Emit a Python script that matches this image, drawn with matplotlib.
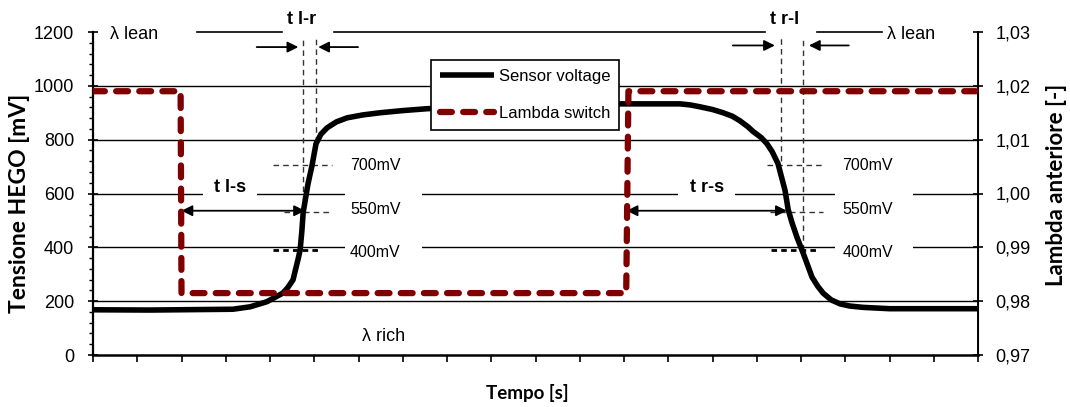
import matplotlib
matplotlib.use("Agg")
import matplotlib.pyplot as plt
from matplotlib.ticker import MultipleLocator, NullFormatter

plt.rcParams['font.family'] = ['Liberation Sans', 'DejaVu Sans']

# sensor voltage [mV]
sensor_t = [0, 1.29, 3.16, 3.55, 3.93, 4.29, 4.4, 4.52, 4.63, 4.68, 4.72, 4.75,
            4.86, 4.95, 5.04, 5.15, 5.29, 5.5, 5.74, 6.1, 6.49, 7.0, 7.55, 9.0,
            10.5, 11.84, 13.27, 13.5, 13.72, 14.0, 14.24, 14.45, 14.62, 14.8,
            14.92, 15.1, 15.23, 15.35, 15.48, 15.64, 15.71, 15.8, 15.91, 16.05,
            16.25, 16.38, 16.5, 16.68, 16.88, 17.1, 17.4, 18.0, 20.0]
sensor_mv = [168, 167, 170, 179, 198, 230, 250, 279, 353, 389, 460, 530,
             637, 704, 785, 820, 844, 866, 881, 892, 900, 908, 915, 924,
             930, 933, 933, 929, 922, 912, 900, 887, 870, 848,
             830, 808, 785, 755, 711, 611, 540, 490, 437, 378,
             289, 255, 230, 205, 190, 182, 177, 172, 172]

# lambda switch (right axis)
lambda_t = [0, 1.98, 2.0, 12.05, 12.1, 20]
lambda_v = [1.019, 1.019, 0.9815, 0.9815, 1.019, 1.019]

left_ticks = [0, 200, 400, 600, 800, 1000, 1200]
right_ticks = [0.97, 0.98, 0.99, 1.00, 1.01, 1.02, 1.03]
right_labels = ['0,97', '0,98', '0,99', '1,00', '1,01', '1,02', '1,03']

red = '#800000'

fig = plt.figure(figsize=(10.7, 4.07), dpi=100)
ax = fig.add_axes([93 / 1070, 1 - 355 / 407, 885 / 1070, 323 / 407])
ax2 = ax.twinx()

ax.set_xlim(0, 20)
ax.set_ylim(0, 1200)
ax2.set_ylim(0.97, 1.03)

# grid lines (no line at 0 and 1200)
ax.hlines(left_ticks[1:-1], 0, 20, color='black', lw=1.0, zorder=1)

# white boxes behind the mV labels
for x0 in (5.69, 16.77):
    ax.add_patch(plt.Rectangle((x0, 360), 1.75, 410, facecolor='white',
                               edgecolor='none', zorder=1.5))

ax.plot(sensor_t, sensor_mv, color='black', lw=4, solid_joinstyle='round',
        solid_capstyle='butt', zorder=3, label='Sensor voltage')
l2, = ax2.plot(lambda_t, lambda_v, color=red, lw=4.5, dashes=(1.9, 1.8),
               dash_capstyle='round', dash_joinstyle='round', zorder=3,
               label='Lambda switch')

# spines and ticks
for a in (ax, ax2):
    a.spines['top'].set_visible(False)
ax.spines['left'].set_linewidth(1.6)
ax.spines['bottom'].set_linewidth(1.8)
ax2.spines['right'].set_linewidth(1.4)
ax2.spines['left'].set_visible(False)
ax2.spines['bottom'].set_visible(False)

ax.set_xticks(range(0, 21))
ax.xaxis.set_major_formatter(NullFormatter())
ax.tick_params(axis='x', direction='out', length=5, width=1.2)
ax.set_yticks(left_ticks)
ax.yaxis.set_minor_locator(MultipleLocator(40))
ax.tick_params(axis='y', which='major', direction='inout', length=7, width=1.2,
               labelsize=13, pad=10)
ax.tick_params(axis='y', which='minor', direction='out', length=3, width=1.0)
ax2.set_yticks(right_ticks)
ax2.set_yticklabels(right_labels)
ax2.tick_params(axis='y', direction='inout', length=7, width=1.2,
                labelsize=13, pad=9)

ax.set_xlabel('Tempo [s]', family='Lato', fontweight='bold', fontsize=13.5, va='center')
ax.xaxis.set_label_coords((527 - 93) / 885, (355 - 393) / 323)
ax.set_ylabel('Tensione HEGO [mV]', family='Lato', fontweight='bold', fontsize=16.5, va='center')
ax.yaxis.set_label_coords((20 - 93) / 885, (355 - 203) / 323)
ax2.set_ylabel('Lambda anteriore [-]', family='Lato', fontweight='bold', fontsize=16,
               va='center', rotation=90)
ax2.yaxis.set_label_coords((1056 - 93) / 885, (355 - 185) / 323)

# top line with gaps for the labels
for x0, x1 in [(2.35, 4.27), (5.45, 15.19), (16.36, 17.82)]:
    ax.plot([x0, x1], [1200, 1200], color='black', lw=1.2, clip_on=False, zorder=2)

ax.text(0.38, 1189, 'λ lean', fontsize=13, ha='left', va='center')
ax.text(17.94, 1189, 'λ lean', fontsize=13, ha='left', va='center')
ax.text(4.72, 1245, 't l-r', fontsize=13, fontweight='bold', ha='center', va='center')
ax.text(15.62, 1245, 't r-l', fontsize=13, fontweight='bold', ha='center', va='center')
ax.text(6.09, 68, 'λ rich', fontsize=13, ha='left', va='center')

# switching time arrows at the top
arrow_kw = dict(arrowstyle='-|>', color='black', lw=1.3, mutation_scale=16,
                shrinkA=0, shrinkB=0)
for xs, xe, yy in [(3.70, 4.64, 1144), (5.99, 5.09, 1144),
                   (14.46, 15.41, 1150), (17.08, 16.18, 1150)]:
    ax.annotate('', xy=(xe, yy), xytext=(xs, yy), arrowprops=arrow_kw,
                annotation_clip=False)

# vertical dashed markers
dash_kw = dict(color='#333333', lw=1.0, dashes=(4, 3), zorder=2)
for xv, y0 in [(4.74, 535), (5.04, 790), (15.54, 720), (16.05, 390)]:
    ax.plot([xv, xv], [y0, 1178], **dash_kw)

# threshold markers
for x0, x1, yy in [(4.07, 5.40, 705), (4.32, 5.40, 532),
                   (15.23, 16.50, 705), (15.30, 16.50, 532)]:
    ax.plot([x0, x1], [yy, yy], **dash_kw)
for x0, x1 in [(4.07, 5.15), (15.32, 16.38)]:
    ax.plot([x0, x1], [389, 389], color='black', lw=2.0, dashes=(2, 1.5), zorder=2)

for xl in (5.81, 16.93):
    ax.text(xl, 704, '700mV', fontsize=11.5, ha='left', va='center', zorder=4)
    ax.text(xl, 539, '550mV', fontsize=11.5, ha='left', va='center', zorder=4)
    ax.text(xl, 379, '400mV', fontsize=11.5, ha='left', va='center', zorder=4)

# t l-s and t r-s
dbl_kw = dict(arrowstyle='<|-|>', color='black', lw=1.3, mutation_scale=16,
              shrinkA=0, shrinkB=0)
ax.annotate('', xy=(4.79, 536), xytext=(2.0, 536), arrowprops=dbl_kw, zorder=4)
ax.annotate('', xy=(15.68, 536), xytext=(12.06, 536), arrowprops=dbl_kw, zorder=4)
box = dict(facecolor='white', edgecolor='none', pad=8)
ax.text(3.10, 624, 't l-s', fontsize=13, fontweight='bold', ha='center',
        va='center', bbox=box, zorder=2.5)
ax.text(13.87, 624, 't r-s', fontsize=13, fontweight='bold', ha='center',
        va='center', bbox=box, zorder=2.5)

h1, lab1 = ax.get_legend_handles_labels()
leg = ax2.legend(h1 + [l2], lab1 + ['Lambda switch'], loc='upper left',
                 bbox_to_anchor=((431 - 93) / 885, (355 - 60) / 323),
                 borderaxespad=0, fancybox=False, framealpha=1, fontsize=12,
                 handlelength=3.2, handletextpad=0.3, labelspacing=1.3,
                 borderpad=0.55)
leg.get_frame().set_edgecolor('black')
leg.get_frame().set_linewidth(1.2)

fig.savefig('out.png', dpi=100)
